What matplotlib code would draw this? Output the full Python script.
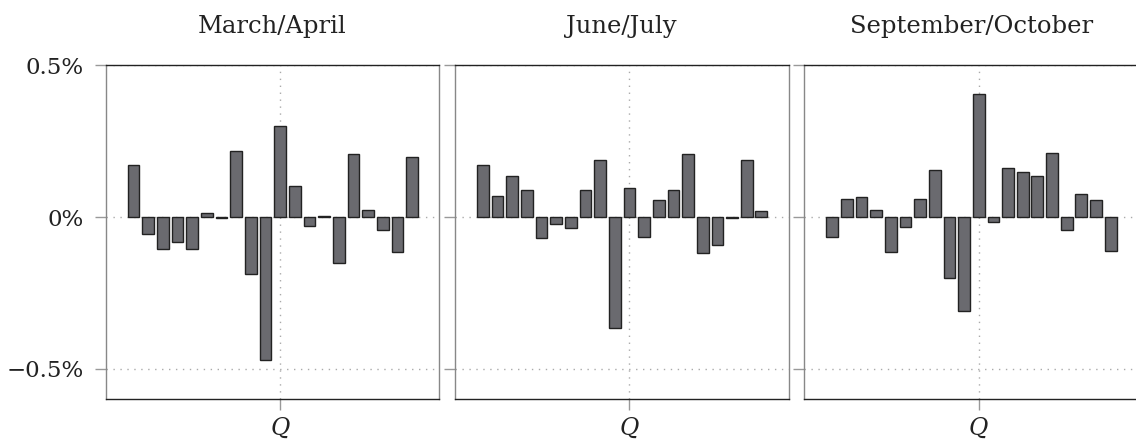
import numpy as np
import matplotlib
matplotlib.use("Agg")
from matplotlib import pyplot as plt

plt.rcParams['font.family'] = ['DejaVu Serif']
plt.rcParams['mathtext.fontset'] = 'dejavuserif'

titles = ["March/April", "June/July", "September/October"]
lags = np.arange(-10, 10)

# values in percent
mar_apr = [0.172, -0.054, -0.105, -0.081, -0.106, 0.013, -0.004, 0.217, -0.188, -0.470,
           0.299, 0.103, -0.029, 0.005, -0.150, 0.207, 0.025, -0.041, -0.114, 0.197]
jun_jul = [0.172, 0.068, 0.134, 0.088, -0.069, -0.022, -0.035, 0.088, 0.189, -0.364,
           0.096, -0.065, 0.056, 0.089, 0.208, -0.117, -0.092, -0.004, 0.189, 0.019]
sep_oct = [-0.065, 0.059, 0.066, 0.023, -0.116, -0.032, 0.061, 0.156, -0.200, -0.310,
           0.407, -0.016, 0.161, 0.150, 0.137, 0.211, -0.043, 0.075, 0.057, -0.112]
series = [mar_apr, jun_jul, sep_oct]

yticks = [-0.5, 0, 0.5]
ytick_labels = ["\u22120.5%", "0%", "0.5%"]

W, H = 1136, 443
fig = plt.figure(figsize=(W / 100, H / 100), dpi=100)

lefts = [105.7, 455.0, 804.3]
aw, top_px, bot_px = 333.6, 65.3, 399.3

for i, (t, vals) in enumerate(zip(titles, series)):
    ax = fig.add_axes([lefts[i] / W, (H - bot_px) / H, aw / W, (bot_px - top_px) / H])
    ax.bar(lags, vals, width=0.8, color='#6a6a6f', edgecolor='#222222',
           linewidth=1.0, zorder=3)
    ax.set_xlim(-11.9, 10.86)
    ax.set_ylim(-0.6, 0.5)
    ax.set_yticks(yticks)
    ax.set_xticks([0])
    ax.set_xticklabels(["$Q$"])
    if i == 0:
        ax.set_yticklabels(ytick_labels)
    else:
        ax.set_yticklabels([])
    ax.tick_params(axis='both', direction='out', length=7.7, width=1.0,
                   color='#999999', labelsize=16.5, pad=8, labelcolor='#222222')
    ax.tick_params(axis='x', labelsize=17, pad=4)
    ax.grid(True, linestyle=(0, (1, 4)), color='#aaaaaa', linewidth=1.0, zorder=0)
    for s in ['top', 'bottom']:
        ax.spines[s].set_color('#222222')
    for s in ['left', 'right']:
        ax.spines[s].set_color('#888888')
    for sp in ax.spines.values():
        sp.set_linewidth(1.0)
    ax.set_title(t, fontsize=17.5, pad=23, color='#222222')

fig.savefig("out.png", dpi=100)
